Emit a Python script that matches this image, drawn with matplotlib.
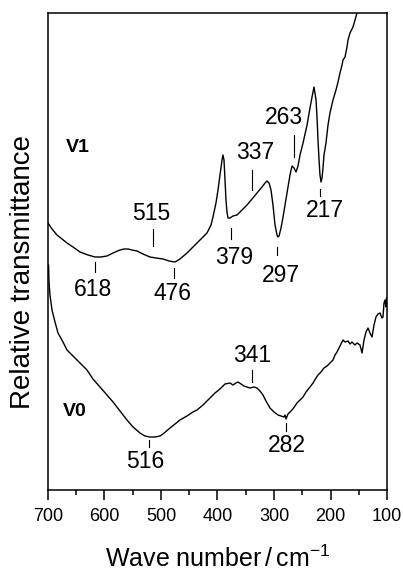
import matplotlib
matplotlib.use("Agg")
import matplotlib.pyplot as plt
from matplotlib.ticker import MultipleLocator

plt.rcParams['font.family'] = ['Liberation Sans', 'DejaVu Sans']
plt.rcParams['mathtext.default'] = 'regular'

# ---------------- data ----------------
v1_wavenumber = [700.0, 692.9, 684.1, 675.2, 666.4, 655.8, 643.4, 629.2, 616.8, 606.2,
                 595.6, 584.9, 572.6, 565.5, 558.4, 551.3, 542.5, 531.9, 519.5, 508.8,
                 496.5, 485.8, 475.2, 466.4, 454.0, 443.4, 431.0, 418.6, 411.5, 408.0,
                 402.7, 399.1, 395.6, 392.0, 390.3, 388.5, 386.7, 385.0, 383.2, 381.4,
                 377.9, 372.6, 365.5, 356.6, 347.8, 338.9, 330.1, 321.2, 315.9, 312.4,
                 308.8, 305.3, 301.8, 298.2, 294.7, 292.9, 291.1, 287.6, 284.0, 280.5,
                 275.2, 271.7, 268.1, 264.6, 261.0, 257.5, 254.0, 248.6, 241.5, 236.3,
                 232.7, 229.2, 225.6, 223.9, 222.1, 220.3, 218.6, 216.8, 215.0, 213.3,
                 211.5, 208.0, 204.4, 200.9, 195.6, 190.3, 186.7, 183.2, 179.6, 177.9,
                 174.3, 170.8, 169.0, 165.5, 160.2, 156.6, 153.1, 151.3]
v1_transmittance = [2.67, 2.61, 2.55, 2.51, 2.47, 2.43, 2.38, 2.35, 2.33, 2.33,
                    2.34, 2.37, 2.40, 2.41, 2.41, 2.40, 2.39, 2.36, 2.33, 2.32,
                    2.31, 2.29, 2.28, 2.31, 2.37, 2.43, 2.50, 2.57, 2.65, 2.73,
                    2.87, 3.00, 3.15, 3.30, 3.35, 3.30, 3.10, 2.90, 2.78, 2.72,
                    2.72, 2.74, 2.75, 2.80, 2.85, 2.91, 2.97, 3.03, 3.07, 3.09,
                    3.07, 3.00, 2.85, 2.65, 2.55, 2.53, 2.54, 2.62, 2.73, 2.85,
                    3.03, 3.15, 3.24, 3.22, 3.18, 3.24, 3.35, 3.47, 3.65, 3.82,
                    3.93, 4.03, 3.90, 3.73, 3.50, 3.30, 3.15, 3.08, 3.12, 3.22,
                    3.35, 3.47, 3.65, 3.77, 3.90, 4.00, 4.08, 4.17, 4.25, 4.30,
                    4.33, 4.43, 4.50, 4.57, 4.63, 4.70, 4.77, 4.82]

v0_wavenumber = [699.1, 698.2, 696.5, 692.9, 687.6, 682.3, 673.5, 666.4, 655.8, 643.4,
                 631.0, 620.4, 608.0, 595.6, 584.9, 572.6, 560.2, 549.5, 537.2, 528.3,
                 519.5, 510.6, 501.8, 496.5, 484.1, 475.2, 466.4, 454.0, 443.4, 436.3,
                 425.7, 413.3, 404.4, 395.6, 386.7, 377.9, 372.6, 367.3, 363.7, 358.4,
                 353.1, 347.8, 342.5, 335.4, 330.1, 324.8, 319.5, 314.2, 307.1, 300.0,
                 292.9, 287.6, 282.3, 280.5, 278.7, 275.2, 268.1, 262.8, 259.3, 254.0,
                 248.6, 243.3, 236.3, 230.9, 225.6, 222.1, 216.8, 211.5, 206.2, 200.9,
                 195.6, 192.0, 188.5, 183.2, 177.9, 174.3, 169.0, 165.5, 162.0, 156.6,
                 153.1, 147.8, 144.2, 140.7, 137.2, 133.6, 130.1, 126.5, 123.0, 119.5,
                 115.9, 112.4, 108.8, 107.1, 105.3, 103.5, 101.8, 100.9]
v0_transmittance = [2.25, 2.08, 1.95, 1.80, 1.68, 1.57, 1.48, 1.40, 1.34, 1.27,
                    1.20, 1.11, 1.03, 0.95, 0.88, 0.79, 0.70, 0.63, 0.57, 0.54,
                    0.53, 0.53, 0.54, 0.56, 0.62, 0.66, 0.70, 0.74, 0.78, 0.80,
                    0.85, 0.92, 0.97, 1.01, 1.06, 1.07, 1.05, 1.07, 1.08, 1.06,
                    1.04, 1.03, 1.02, 1.03, 1.02, 0.99, 0.95, 0.89, 0.82, 0.78,
                    0.75, 0.74, 0.73, 0.75, 0.71, 0.76, 0.80, 0.84, 0.87, 0.90,
                    0.93, 0.98, 1.03, 1.07, 1.12, 1.15, 1.18, 1.22, 1.24, 1.27,
                    1.30, 1.35, 1.38, 1.44, 1.50, 1.48, 1.49, 1.46, 1.48, 1.45,
                    1.47, 1.45, 1.37, 1.50, 1.58, 1.62, 1.57, 1.53, 1.65, 1.73,
                    1.76, 1.77, 1.72, 1.73, 1.87, 1.90, 1.83, 1.92]

series_names = ['V1', 'V0']

# peak labels and the wavenumber where each marker sits
peak_labels = ['618', '515', '476', '379', '337', '297', '263', '217', '516', '341', '282']
peak_positions = [616.8, 514.2, 477.0, 376.1, 338.9, 294.7, 264.6, 218.6, 521.2, 338.9, 278.7]

x_ticks = [700, 600, 500, 400, 300, 200, 100]

# ---------------- layout ----------------
# marker line (y0, y1) and label centre (x, y) for each peak
mark_y = [(2.28, 2.18), (2.61, 2.44), (2.22, 2.12), (2.62, 2.51), (3.20, 3.00),
          (2.43, 2.35), (3.55, 3.33), (3.01, 2.94), (0.50, 0.43), (1.20, 1.08),
          (0.67, 0.59)]
text_xy = [(620.4, 2.00), (517.7, 2.76), (478.8, 1.97), (370.8, 2.33), (333.6, 3.37),
           (287.6, 2.14), (282.3, 3.72), (209.7, 2.79), (528.3, 0.29), (339.0, 1.35),
           (277.0, 0.45)]
name_xy = [(648, 3.42), (653, 0.79)]

fig = plt.figure(figsize=(4.03, 5.72), dpi=100)
ax = fig.add_axes([48 / 403, 82 / 572, 339 / 403, 477 / 572])

ax.plot(v1_wavenumber, v1_transmittance, color='black', lw=1.0)
ax.plot(v0_wavenumber, v0_transmittance, color='black', lw=1.0)

for lab, px, (y0, y1), (tx, ty) in zip(peak_labels, peak_positions, mark_y, text_xy):
    ax.plot([px, px], [y0, y1], color='black', lw=0.8)
    ax.text(tx, ty, lab, ha='center', va='center', fontsize=16.5)

for name, (tx, ty) in zip(series_names, name_xy):
    ax.text(tx, ty, name, ha='center', va='center', fontsize=14, fontweight='bold')

ax.set_xlim(700, 100)
ax.set_ylim(0, 4.77)
ax.set_xticks(x_ticks)
ax.set_xticklabels([str(t) for t in x_ticks])
ax.xaxis.set_minor_locator(MultipleLocator(50))
ax.set_yticks([])
ax.tick_params(axis='x', which='major', direction='out', length=7, width=1.1,
               labelsize=13, pad=6)
ax.tick_params(axis='x', which='minor', direction='out', length=3.5, width=1.1)
for sp in ax.spines.values():
    sp.set_linewidth(1.1)

ax.set_xlabel('Wave number$\\,/\\,$cm$^{-1}$', fontsize=18, labelpad=15)
ax.set_ylabel('Relative transmittance', fontsize=20)
ax.yaxis.set_label_coords(-0.035, 0.458)

fig.savefig('out.png', dpi=100)
